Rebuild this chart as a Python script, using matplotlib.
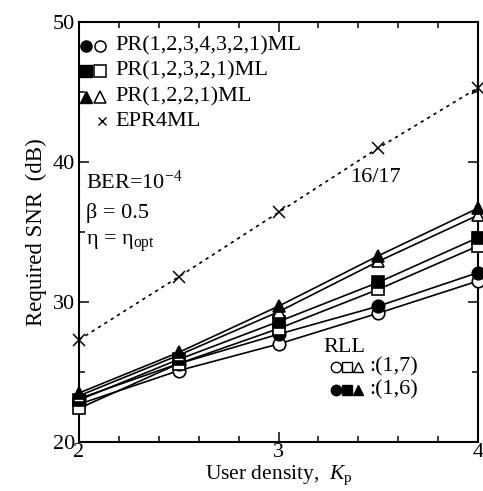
import matplotlib
matplotlib.use("Agg")
import matplotlib.pyplot as plt
from matplotlib.ticker import MultipleLocator

plt.rcParams['font.family'] = ['Liberation Serif', 'DejaVu Serif']
plt.rcParams['mathtext.fontset'] = 'custom'
plt.rcParams['mathtext.rm'] = 'Liberation Serif'
plt.rcParams['mathtext.it'] = 'Liberation Serif:italic'

density = [2, 2.5, 3, 3.5, 4]
epr4ml = [27.3, 31.8, 36.4, 41.0, 45.3]
pr1221_16 = [23.5, 26.4, 29.7, 33.3, 36.7]
pr1221_17 = [23.3, 26.2, 29.3, 32.9, 36.2]
pr12321_16 = [23.0, 25.9, 28.6, 31.4, 34.6]
pr12321_17 = [22.4, 25.6, 28.1, 30.9, 34.0]
pr1234321_16 = [23.1, 25.6, 27.7, 29.7, 32.1]
pr1234321_17 = [22.7, 25.1, 27.0, 29.2, 31.5]
legend_labels = ["PR(1,2,3,4,3,2,1)ML", "PR(1,2,3,2,1)ML", "PR(1,2,2,1)ML", "EPR4ML"]

FS = 16

fig = plt.figure(figsize=(4.83, 4.91), dpi=100)
ax = fig.add_axes([79/483, 1-442/491, 399/483, 420/491])

ms = 9
for y, m, fill in [(pr1234321_17, 'o', 'white'), (pr1234321_16, 'o', 'black'),
                   (pr12321_17, 's', 'white'), (pr12321_16, 's', 'black'),
                   (pr1221_17, '^', 'white'), (pr1221_16, '^', 'black')]:
    ax.plot(density, y, color='black', lw=1.2, marker=m, ms=ms,
            mfc=fill, mec='black', mew=1.2, clip_on=False, zorder=3)
ax.plot(density, epr4ml, color='black', lw=1.2, ls=(0, (2, 2.5)), marker='x',
        ms=8, mew=1.1, clip_on=False, zorder=3)

ax.set_xlim(2, 4)
ax.set_ylim(20, 50)
ax.xaxis.set_major_locator(MultipleLocator(1))
ax.xaxis.set_minor_locator(MultipleLocator(0.2))
ax.yaxis.set_major_locator(MultipleLocator(10))
ax.yaxis.set_minor_locator(MultipleLocator(5))
ax.tick_params(which='both', direction='in', top=True, right=True, labelsize=FS, width=1.1)
ax.tick_params(which='major', length=7)
ax.tick_params(which='minor', length=4)
ax.tick_params(axis='x', pad=1)
ax.tick_params(axis='y', pad=3)
for s in ax.spines.values():
    s.set_linewidth(1.5)

ax.set_xlabel("User density,  $\\mathit{K}_{\\mathrm{p}}$", fontsize=15.5, labelpad=0.5)
ax.set_ylabel("Required SNR  (dB)", fontsize=16.5, labelpad=4)

# legend (manual)
def ax_xy(px, py):
    return ((px - 79) / 399, (442 - py) / 420)

rows = [(46, 'o'), (71, 's'), (97, '^')]
for i, (py, m) in enumerate(rows):
    x1, y1 = ax_xy(86, py)
    x2, y2 = ax_xy(100, py)
    ax.plot([x1], [y1], marker=m, ms=8, mfc='black', mec='black', transform=ax.transAxes, clip_on=False)
    ax.plot([x2], [y2], marker=m, ms=8, mfc='white', mec='black', mew=1.1, transform=ax.transAxes, clip_on=False)
    tx, ty = ax_xy(115, py)
    ax.text(tx, ty, legend_labels[i], transform=ax.transAxes, fontsize=FS, va='center', ha='left')
x2, y2 = ax_xy(102, 121)
ax.plot([x2], [y2], marker='x', ms=6, mec='black', mew=1.0, transform=ax.transAxes)
tx, ty = ax_xy(115, 121)
ax.text(tx, ty, legend_labels[3], transform=ax.transAxes, fontsize=FS, va='center', ha='left')

tx, ty = ax_xy(86, 182)
ax.text(tx, ty, "BER=10$^{-4}$", transform=ax.transAxes, fontsize=FS, va='center')
tx, ty = ax_xy(86, 213)
ax.text(tx, ty, "β = 0.5", transform=ax.transAxes, fontsize=FS, va='center')
tx, ty = ax_xy(86, 243)
ax.text(tx, ty, "η = η$_{\\mathrm{opt}}$", transform=ax.transAxes, fontsize=FS, va='center')
tx, ty = ax_xy(350, 178)
ax.text(tx, ty, "16/17", transform=ax.transAxes, fontsize=FS, va='center')

tx, ty = ax_xy(323, 347)
ax.text(tx, ty, "RLL", transform=ax.transAxes, fontsize=FS, va='center')
for py, fill, lab in [(367, 'white', ":(1,7)"), (390, 'black', ":(1,6)")]:
    for px, m in [(336, 'o'), (347, 's'), (358, '^')]:
        mx, my = ax_xy(px, py)
        ax.plot([mx], [my], marker=m, ms=7.5, mfc=fill, mec='black', mew=1.0, transform=ax.transAxes)
    tx, ty = ax_xy(369, py)
    ax.text(tx, ty, lab, transform=ax.transAxes, fontsize=FS, va='center')

fig.savefig("out.png", dpi=100)
